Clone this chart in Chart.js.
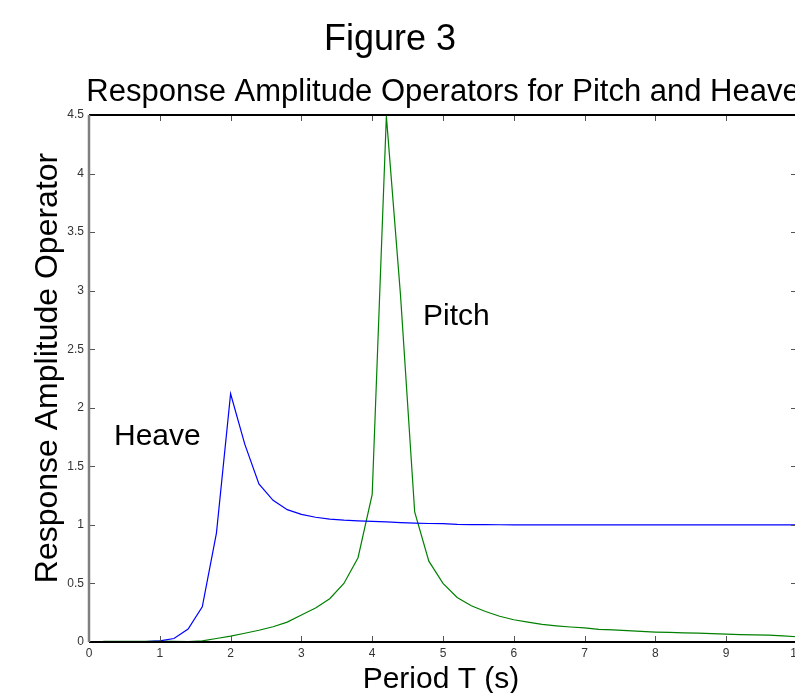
<!DOCTYPE html>
<html>
<head>
    <title>Figure 3</title>
    <script src="https://cdn.jsdelivr.net/npm/chart.js"></script>
    <style>
        body {
            margin: 0;
            background-color: #ffffff;
            overflow: hidden;
        }
        #chart {
            display: block;
        }
    </style>
</head>
<body>
    <canvas id="chart" width="800" height="693" style="width:800px;height:693px"></canvas>

    <script>
        // periods (s), step 0.2
        var period = [0.2, 0.4, 0.6, 0.8, 1.0, 1.2, 1.4, 1.6, 1.8, 2.0,
                      2.2, 2.4, 2.6, 2.8, 3.0, 3.2, 3.4, 3.6, 3.8, 4.0,
                      4.2, 4.4, 4.6, 4.8, 5.0, 5.2, 5.4, 5.6, 5.8, 6.0,
                      6.2, 6.4, 6.6, 6.8, 7.0, 7.2, 7.4, 7.6, 7.8, 8.0,
                      8.2, 8.4, 8.6, 8.8, 9.0, 9.2, 9.4, 9.6, 9.8, 10.0];

        var heaveRAO = [0.0, 0.0, 0.001, 0.003, 0.01, 0.03, 0.11, 0.30, 0.93, 2.12,
                        1.69, 1.35, 1.21, 1.13, 1.09, 1.065, 1.05, 1.04, 1.035, 1.03,
                        1.025, 1.02, 1.015, 1.012, 1.01, 1.005, 1.003, 1.002, 1.001, 1.0,
                        1.0, 1.0, 1.0, 1.0, 1.0, 1.0, 1.0, 1.0, 1.0, 1.0,
                        1.0, 1.0, 1.0, 1.0, 1.0, 1.0, 1.0, 1.0, 1.0, 1.0];

        var pitchRAO = [0.005, 0.005, 0.005, 0.006, 0.008, 0.006, 0.004, 0.01, 0.03, 0.05,
                        0.075, 0.10, 0.13, 0.17, 0.23, 0.29, 0.37, 0.50, 0.72, 1.26,
                        4.49, 2.96, 1.11, 0.69, 0.50, 0.38, 0.31, 0.26, 0.22, 0.19,
                        0.17, 0.15, 0.138, 0.128, 0.12, 0.108, 0.104, 0.097, 0.09, 0.085,
                        0.082, 0.078, 0.075, 0.071, 0.068, 0.063, 0.06, 0.058, 0.052, 0.045];

        var xTicks = [0, 1, 2, 3, 4, 5, 6, 7, 8, 9, 10];
        var yTicks = [0, 0.5, 1, 1.5, 2, 2.5, 3, 3.5, 4, 4.5];

        var fontName = '"Liberation Sans", Arial, sans-serif';

        function toPoints(xs, ys) {
            var pts = [];
            for (var i = 0; i < xs.length; i++) {
                pts.push({ x: xs[i], y: ys[i] });
            }
            return pts;
        }

        // MATLAB-like box, inward ticks and text labels
        var matlabFrame = {
            id: 'matlabFrame',
            afterDraw: function (chart) {
                var ctx = chart.ctx;
                var a = chart.chartArea;
                var xs = chart.scales.x;
                var ys = chart.scales.y;
                var len = 6;

                ctx.save();
                ctx.strokeStyle = '#555555';
                ctx.lineWidth = 1;
                ctx.beginPath();
                xTicks.forEach(function (v) {
                    var px = Math.round(xs.getPixelForValue(v)) + 0.5;
                    ctx.moveTo(px, a.bottom);
                    ctx.lineTo(px, a.bottom - len);
                    ctx.moveTo(px, a.top);
                    ctx.lineTo(px, a.top + len);
                });
                yTicks.forEach(function (v) {
                    var py = Math.round(ys.getPixelForValue(v)) + 0.5;
                    ctx.moveTo(a.left, py);
                    ctx.lineTo(a.left + len, py);
                    ctx.moveTo(a.right, py);
                    ctx.lineTo(a.right - len, py);
                });
                ctx.stroke();

                // frame
                ctx.strokeStyle = '#000000';
                ctx.lineWidth = 2;
                ctx.beginPath();
                ctx.moveTo(a.left, a.top);
                ctx.lineTo(a.right, a.top);
                ctx.moveTo(a.left, a.bottom);
                ctx.lineTo(a.right, a.bottom);
                ctx.moveTo(a.right, a.top);
                ctx.lineTo(a.right, a.bottom);
                ctx.stroke();
                ctx.strokeStyle = '#808080';
                ctx.lineWidth = 2.5;
                ctx.beginPath();
                ctx.moveTo(a.left, a.top);
                ctx.lineTo(a.left, a.bottom);
                ctx.stroke();

                // texts
                ctx.fillStyle = '#000000';
                ctx.textAlign = 'center';
                ctx.textBaseline = 'alphabetic';
                ctx.font = '36px ' + fontName;
                ctx.fillText('Figure 3', 390, 50);
                ctx.font = '31px ' + fontName;
                ctx.fillText('Response Amplitude Operators for Pitch and Heave', (a.left + a.right) / 2, 101);
                ctx.font = '30px ' + fontName;
                ctx.fillText('Period T (s)', 441, 688);

                ctx.save();
                ctx.translate(57, 368);
                ctx.rotate(-Math.PI / 2);
                ctx.font = '32px ' + fontName;
                ctx.fillText('Response Amplitude Operator', 0, 0);
                ctx.restore();

                ctx.textAlign = 'left';
                ctx.font = '30px ' + fontName;
                ctx.fillText('Heave', 114, 445);
                ctx.fillText('Pitch', 423, 325);
                ctx.restore();
            }
        };

        new Chart(document.getElementById('chart'), {
            type: 'line',
            data: {
                datasets: [
                    {
                        label: 'Heave',
                        data: toPoints(period, heaveRAO),
                        borderColor: 'rgb(0, 0, 255)',
                        borderWidth: 1.2,
                        pointRadius: 0,
                        tension: 0,
                        fill: false
                    },
                    {
                        label: 'Pitch',
                        data: toPoints(period, pitchRAO),
                        borderColor: 'rgb(0, 128, 0)',
                        borderWidth: 1.2,
                        pointRadius: 0,
                        tension: 0,
                        fill: false
                    }
                ]
            },
            options: {
                responsive: false,
                animation: false,
                layout: {
                    padding: { top: 115, right: 3, left: 0, bottom: 0 }
                },
                plugins: {
                    legend: { display: false },
                    tooltip: { enabled: false }
                },
                scales: {
                    x: {
                        type: 'linear',
                        min: 0,
                        max: 10,
                        afterFit: function (scale) {
                            scale.height = 51;
                            scale.paddingLeft = 0;
                            scale.paddingRight = 0;
                        },
                        afterBuildTicks: function (scale) {
                            scale.ticks = xTicks.map(function (v) { return { value: v }; });
                        },
                        grid: { display: false, drawTicks: false },
                        border: { display: false },
                        ticks: {
                            padding: 4,
                            maxRotation: 0,
                            autoSkip: false,
                            color: '#333333',
                            font: { family: fontName, size: 12 },
                            callback: function (v) { return String(v); }
                        }
                    },
                    y: {
                        type: 'linear',
                        min: 0,
                        max: 4.5,
                        afterFit: function (scale) {
                            scale.width = 89;
                            scale.paddingTop = 0;
                            scale.paddingBottom = 0;
                        },
                        afterBuildTicks: function (scale) {
                            scale.ticks = yTicks.map(function (v) { return { value: v }; });
                        },
                        grid: { display: false, drawTicks: false },
                        border: { display: false },
                        ticks: {
                            padding: 5,
                            autoSkip: false,
                            color: '#333333',
                            font: { family: fontName, size: 12 },
                            callback: function (v) { return String(v); }
                        }
                    }
                }
            },
            plugins: [matlabFrame]
        });
    </script>
</body>
</html>
